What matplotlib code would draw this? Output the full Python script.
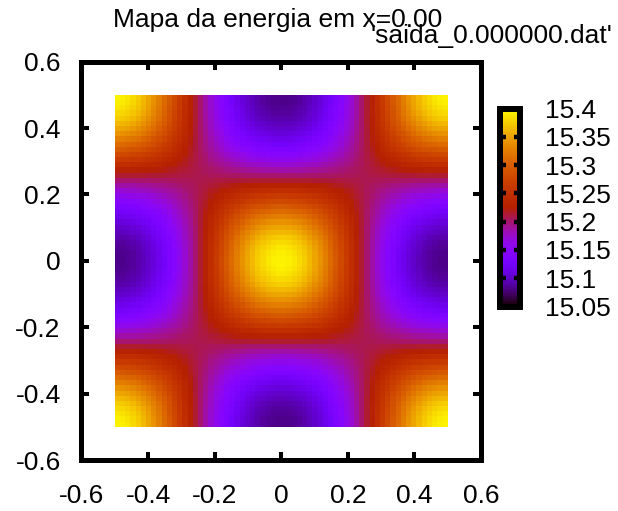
import numpy as np
import matplotlib
matplotlib.use("Agg")
import matplotlib.pyplot as plt
from matplotlib.colors import ListedColormap

plt.rcParams['font.family'] = ['Liberation Sans', 'DejaVu Sans']

# ---- data ----
title_text = "Mapa da energia em x=0.00"
key_text = "'saida_0.000000.dat'"
x_ticks = [-0.6, -0.4, -0.2, 0, 0.2, 0.4, 0.6]
y_ticks = [-0.6, -0.4, -0.2, 0, 0.2, 0.4, 0.6]
cb_ticks = [15.05, 15.1, 15.15, 15.2, 15.25, 15.3, 15.35, 15.4]
cb_range = [15.05, 15.4]
energy_max = 15.395    # centre and corners
energy_mid = 15.2075   # crossing lines x = +-0.25, y = +-0.25
energy_min = 15.0815   # edge midpoints (0, +-0.5), (+-0.5, 0)
grid_cells = 64
data_range = [-0.5, 0.5]

# periodic energy map: E is a smooth function of q = cos(2 pi x) cos(2 pi y),
# passing through the three levels read above at q = -1, 0, 1
edges = np.linspace(data_range[0], data_range[1], grid_cells + 1)
centers = 0.5 * (edges[:-1] + edges[1:])
c = np.cos(2 * np.pi * centers)
q = np.outer(c, c)
A = 0.5 * (energy_max - energy_min)
C = 0.5 * (energy_max + energy_min) - energy_mid
E = energy_mid + A * q + C * q ** 2

# gnuplot default palette rgbformulae 7,5,15
g = np.linspace(0, 1, 256)
r = np.sqrt(g)
gg = g ** 3
b = np.clip(np.sin(2 * np.pi * g), 0, 1)
cmap = ListedColormap(np.column_stack([r, gg, b]))

FS = 19
fig = plt.figure(figsize=(6.18, 5.11), dpi=100)
W, H = 618, 511
L, R, T, B = 81.5, 481, 61.7, 460
ax = fig.add_axes([L / W, 1 - B / H, (R - L) / W, (B - T) / H])
mesh = ax.pcolormesh(edges, edges, E, cmap=cmap, vmin=cb_range[0], vmax=cb_range[1],
                     shading='flat', rasterized=True)
ax.set_xlim(-0.6, 0.6)
ax.set_ylim(-0.6, 0.6)
ax.set_xticks(x_ticks)
ax.set_yticks(y_ticks)
ax.set_xticklabels([f"{v:g}" for v in x_ticks])
ax.set_yticklabels([f"{v:g}" for v in y_ticks])
for s in ax.spines.values():
    s.set_linewidth(3.6)
ax.tick_params(direction='in', length=6, width=2.9, top=True, right=True,
               labelsize=FS)
ax.tick_params(axis='x', pad=17)
ax.tick_params(axis='y', pad=15)

# colorbar
cL, cR, cT, cB = 500, 520, 108.5, 306.5
cax = fig.add_axes([cL / W, 1 - cB / H, (cR - cL) / W, (cB - cT) / H])
cb = fig.colorbar(mesh, cax=cax)
cb.outline.set_linewidth(4.3)
cb.set_ticks(cb_ticks)
cb.set_ticklabels([f"{v:g}" for v in cb_ticks])
cax.tick_params(direction='in', length=4.3, width=3.2, left=True, right=True,
                labelsize=FS, pad=18, color='black')

fig.text(278 / W, 1 - 27 / H, title_text, ha='center', va='baseline', fontsize=FS)
fig.text(612 / W, 1 - 43 / H, key_text, ha='right', va='baseline', fontsize=FS)

fig.savefig("out.png", dpi=100)
